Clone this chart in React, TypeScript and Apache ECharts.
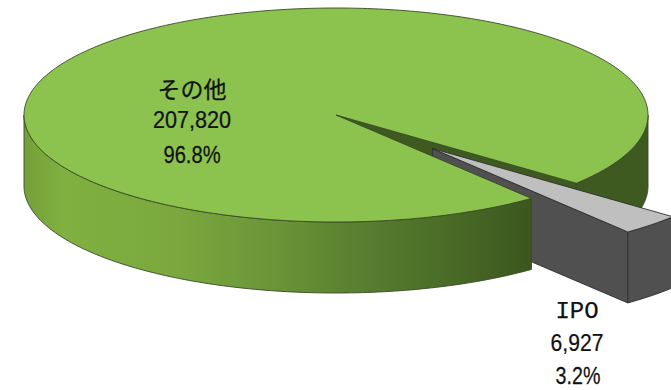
import React, { useEffect, useRef } from "react";
import * as echarts from "echarts";

// Issue counts by category
const categories = ["その他", "IPO"];
const counts = [207820, 6927];

const WIDTH = 671;
const HEIGHT = 390;

// Disc projection: centre, ellipse radii and wall height, in pixels
const CX = 336;
const CY = 115;
const RX = 312;
const RY = 107;
const DEPTH = 71;
const EXPLODE = 0.44;
// Ellipse parameter (degrees, clockwise from 3 o'clock) where the IPO slice begins
const START_DEG = 39.6;

const TOP_GREEN = "#8bc34e";
const WALL_GREEN = "#3f5a20";
const EDGE_GREEN = "#3a4a26";
const TOP_GREY = "#bfbfbf";
const WALL_GREY = "#505050";
const EDGE_GREY = "#2f2f2f";
const TEXT = "#111";

const onEllipse = (deg: number, ox = 0, oy = 0, drop = 0): number[] => {
  const t = (deg * Math.PI) / 180;
  return [CX + ox + RX * Math.cos(t), CY + oy + drop + RY * Math.sin(t)];
};

const arc = (from: number, to: number, ox = 0, oy = 0, drop = 0): number[][] => {
  const n = Math.max(2, Math.ceil(Math.abs(to - from)));
  const pts: number[][] = [];
  for (let i = 0; i <= n; i++) pts.push(onEllipse(from + ((to - from) * i) / n, ox, oy, drop));
  return pts;
};

const wallBetween = (from: number, to: number, ox = 0, oy = 0): number[][] => [
  ...arc(from, to, ox, oy, 0),
  ...arc(to, from, ox, oy, DEPTH),
];

const poly = (points: number[][], fill: any, stroke: string, z2: number) => ({
  type: "polygon",
  z2,
  shape: { points },
  style: { fill, stroke, lineWidth: 0.9 },
});

// Horizontally condensed text line, centred on (x, y)
const label = (text: string, x: number, y: number, font: string, scaleX = 1) => ({
  type: "text",
  z2: 10,
  x,
  y,
  scaleX,
  style: {
    text,
    x: 0,
    y: 0,
    font,
    fill: TEXT,
    stroke: TEXT,
    lineWidth: 0.25,
    align: "center",
    verticalAlign: "middle",
  },
});

export default function App() {
  const ref = useRef<HTMLDivElement>(null);

  useEffect(() => {
    const chart = echarts.init(ref.current!, undefined, { renderer: "svg" });
    const total = counts.reduce((a, b) => a + b, 0);
    const sansFont = '24px "Liberation Sans", Arial, sans-serif';

    const renderItem = (params: any, api: any) => {
      const value = api.value(0) as number;
      const share = value / total;
      const valueText = value.toLocaleString("en-US");
      const pctText = (share * 100).toFixed(1) + "%";
      const ipoSweep = (counts[1] / total) * 360;
      const end = START_DEG + ipoSweep;

      if (params.dataIndex === 0) {
        // Large slice: everything except the notch that the IPO slice left behind
        const front = new echarts.graphic.LinearGradient(0, 0, 1, 0, [
          { offset: 0, color: "#74a03a" },
          { offset: 0.08, color: "#80b040" },
          { offset: 0.3, color: "#7aa83e" },
          { offset: 0.5, color: "#6a9437" },
          { offset: 0.65, color: "#5a8030" },
          { offset: 0.85, color: "#486a26" },
          { offset: 1, color: "#3c561e" },
        ]);
        return {
          type: "group",
          children: [
            poly(
              [[CX, CY], onEllipse(START_DEG), onEllipse(START_DEG, 0, 0, DEPTH), [CX, CY + DEPTH]],
              WALL_GREEN,
              WALL_GREEN,
              0
            ),
            poly(wallBetween(0, START_DEG), WALL_GREEN, EDGE_GREEN, 1),
            poly(wallBetween(end, 180), front, EDGE_GREEN, 5),
            poly([[CX, CY], ...arc(end, 360 + START_DEG)], TOP_GREEN, EDGE_GREEN, 6),
            label(categories[0], 192, 88, `23px "Noto Sans CJK JP", sans-serif`),
            label(valueText, 192, 120, sansFont, 0.9),
            label(pctText, 192, 155, sansFont, 0.84),
          ],
        };
      }

      // Small slice, pulled out along its bisector
      const mid = (START_DEG + end) / 2;
      const t = (mid * Math.PI) / 180;
      const ox = EXPLODE * RX * Math.cos(t);
      const oy = EXPLODE * RY * Math.sin(t);
      const tip = [CX + ox, CY + oy];
      const tipLow = [tip[0], tip[1] + DEPTH];
      const nearTop = onEllipse(end, ox, oy);
      const nearLow = onEllipse(end, ox, oy, DEPTH);
      return {
        type: "group",
        children: [
          poly([tip, nearTop, nearLow, tipLow], WALL_GREY, EDGE_GREY, 2),
          poly(wallBetween(START_DEG, end, ox, oy), WALL_GREY, EDGE_GREY, 3),
          poly([tip, ...arc(START_DEG, end, ox, oy)], TOP_GREY, EDGE_GREY, 4),
          label(categories[1], 577, 311, `24px "Liberation Mono", monospace`),
          label(valueText, 577, 343, sansFont, 0.88),
          label(pctText, 578, 376, sansFont, 0.82),
        ],
      };
    };

    chart.setOption({
      animation: false,
      backgroundColor: "#fff",
      series: [
        {
          type: "custom",
          coordinateSystem: "none",
          silent: true,
          renderItem,
          data: counts.map((c) => [c]),
        },
      ],
    });
    return () => chart.dispose();
  }, []);

  return (
    <div
      ref={ref}
      style={{ position: "absolute", left: 0, top: 0, width: WIDTH, height: HEIGHT }}
    />
  );
}
